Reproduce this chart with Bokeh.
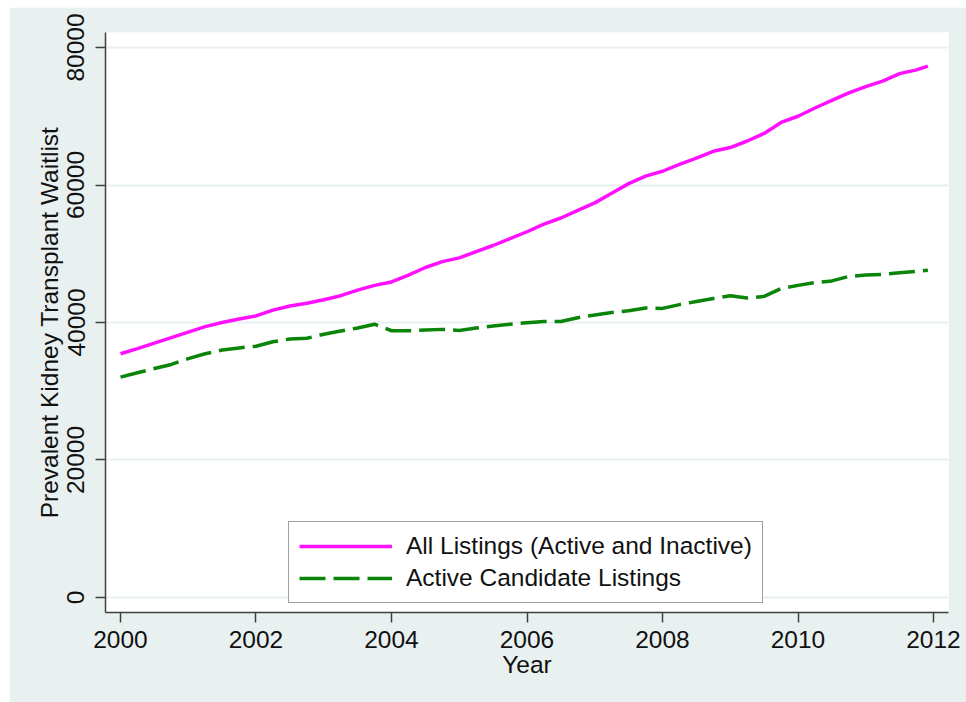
from bokeh.plotting import figure
from bokeh.models import Range1d, FixedTicker, Legend, LegendItem
from bokeh.embed import file_html
from bokeh.resources import INLINE

# Quarterly readings of the kidney transplant waitlist, 2000 through late 2011
years = [2000.00, 2000.25, 2000.50, 2000.75, 2001.00, 2001.25, 2001.50, 2001.75,
         2002.00, 2002.25, 2002.50, 2002.75, 2003.00, 2003.25, 2003.50, 2003.75,
         2004.00, 2004.25, 2004.50, 2004.75, 2005.00, 2005.25, 2005.50, 2005.75,
         2006.00, 2006.25, 2006.50, 2006.75, 2007.00, 2007.25, 2007.50, 2007.75,
         2008.00, 2008.25, 2008.50, 2008.75, 2009.00, 2009.25, 2009.50, 2009.75,
         2010.00, 2010.25, 2010.50, 2010.75, 2011.00, 2011.25, 2011.50, 2011.75,
         2011.917]

all_listings = [35450, 36200, 37000, 37800, 38600, 39400, 40000, 40500,
                40950, 41800, 42400, 42800, 43300, 43900, 44700, 45400,
                45900, 46900, 48000, 48850, 49400, 50300, 51200, 52200,
                53200, 54300, 55200, 56300, 57400, 58800, 60200, 61300,
                62000, 63000, 63900, 64900, 65450, 66400, 67500, 69100,
                70000, 71200, 72300, 73400, 74300, 75100, 76200, 76750,
                77300]

active_listings = [32050, 32700, 33300, 33900, 34750, 35450, 36000, 36300,
                   36550, 37200, 37600, 37700, 38300, 38750, 39200, 39750,
                   38800, 38800, 38900, 39000, 38850, 39200, 39500, 39750,
                   39950, 40150, 40150, 40700, 41100, 41450, 41700, 42100,
                   42050, 42600, 43050, 43500, 43900, 43550, 43800, 44950,
                   45400, 45800, 46050, 46700, 46900, 47000, 47250, 47450,
                   47600]

x_ticks = [2000, 2002, 2004, 2006, 2008, 2010, 2012]
y_ticks = [0, 20000, 40000, 60000, 80000]

series_labels = ["All Listings (Active and Inactive)", "Active Candidate Listings"]

FONT = "Liberation Sans"
SIZE = "24.5px"
TEXT = "#111111"
BG = "#e8f0f0"
AXIS = "#404040"

p = figure(width=957, height=695, margin=(7, 0, 0, 9),
           output_backend="svg", toolbar_location=None,
           x_range=Range1d(1999.7786, 2012.2214),
           y_range=Range1d(-2182, 82182),
           min_border_left=96, min_border_right=18,
           min_border_top=25, min_border_bottom=90)

p.background_fill_color = "white"
p.border_fill_color = BG
p.outline_line_color = None

p.xgrid.grid_line_color = None
p.ygrid.grid_line_color = BG
p.ygrid.grid_line_width = 2

for ax in (p.xaxis, p.yaxis):
    ax.axis_line_color = AXIS
    ax.axis_line_width = 1.5
    ax.major_tick_line_color = AXIS
    ax.major_tick_line_width = 1.5
    ax.major_tick_out = 10
    ax.major_tick_in = 0
    ax.minor_tick_line_color = None
    ax.major_label_text_font = FONT
    ax.major_label_text_font_size = SIZE
    ax.major_label_text_color = TEXT
    ax.axis_label_text_font = FONT
    ax.axis_label_text_font_size = SIZE
    ax.axis_label_text_font_style = "normal"
    ax.axis_label_text_color = TEXT

p.xaxis.ticker = FixedTicker(ticks=x_ticks)
p.yaxis.ticker = FixedTicker(ticks=y_ticks)
p.yaxis.major_label_orientation = "vertical"
p.xaxis.axis_label = "Year"
p.yaxis.axis_label = "Prevalent Kidney Transplant Waitlist"
p.xaxis.major_label_standoff = 8
p.yaxis.major_label_standoff = 11
p.xaxis.axis_label_standoff = 0
p.yaxis.axis_label_standoff = 2

r_all = p.line(years, all_listings, line_color="#ff10ff", line_width=3.5)
r_act = p.line(years, active_listings, line_color="#0a850a", line_width=3.5,
               line_dash="26 8")

legend = Legend(items=[LegendItem(label=series_labels[0], renderers=[r_all]),
                       LegendItem(label=series_labels[1], renderers=[r_act])],
                location=(183, 9), orientation="vertical",
                margin=0, padding=10, spacing=4,
                glyph_width=93, glyph_height=28, label_height=28,
                label_standoff=14,
                label_text_font=FONT, label_text_font_size=SIZE,
                label_text_color=TEXT,
                border_line_color=AXIS, border_line_width=1.5,
                background_fill_color="white", background_fill_alpha=1.0)
p.add_layout(legend, "center")

open("out.html", "w").write(file_html(p, INLINE))
